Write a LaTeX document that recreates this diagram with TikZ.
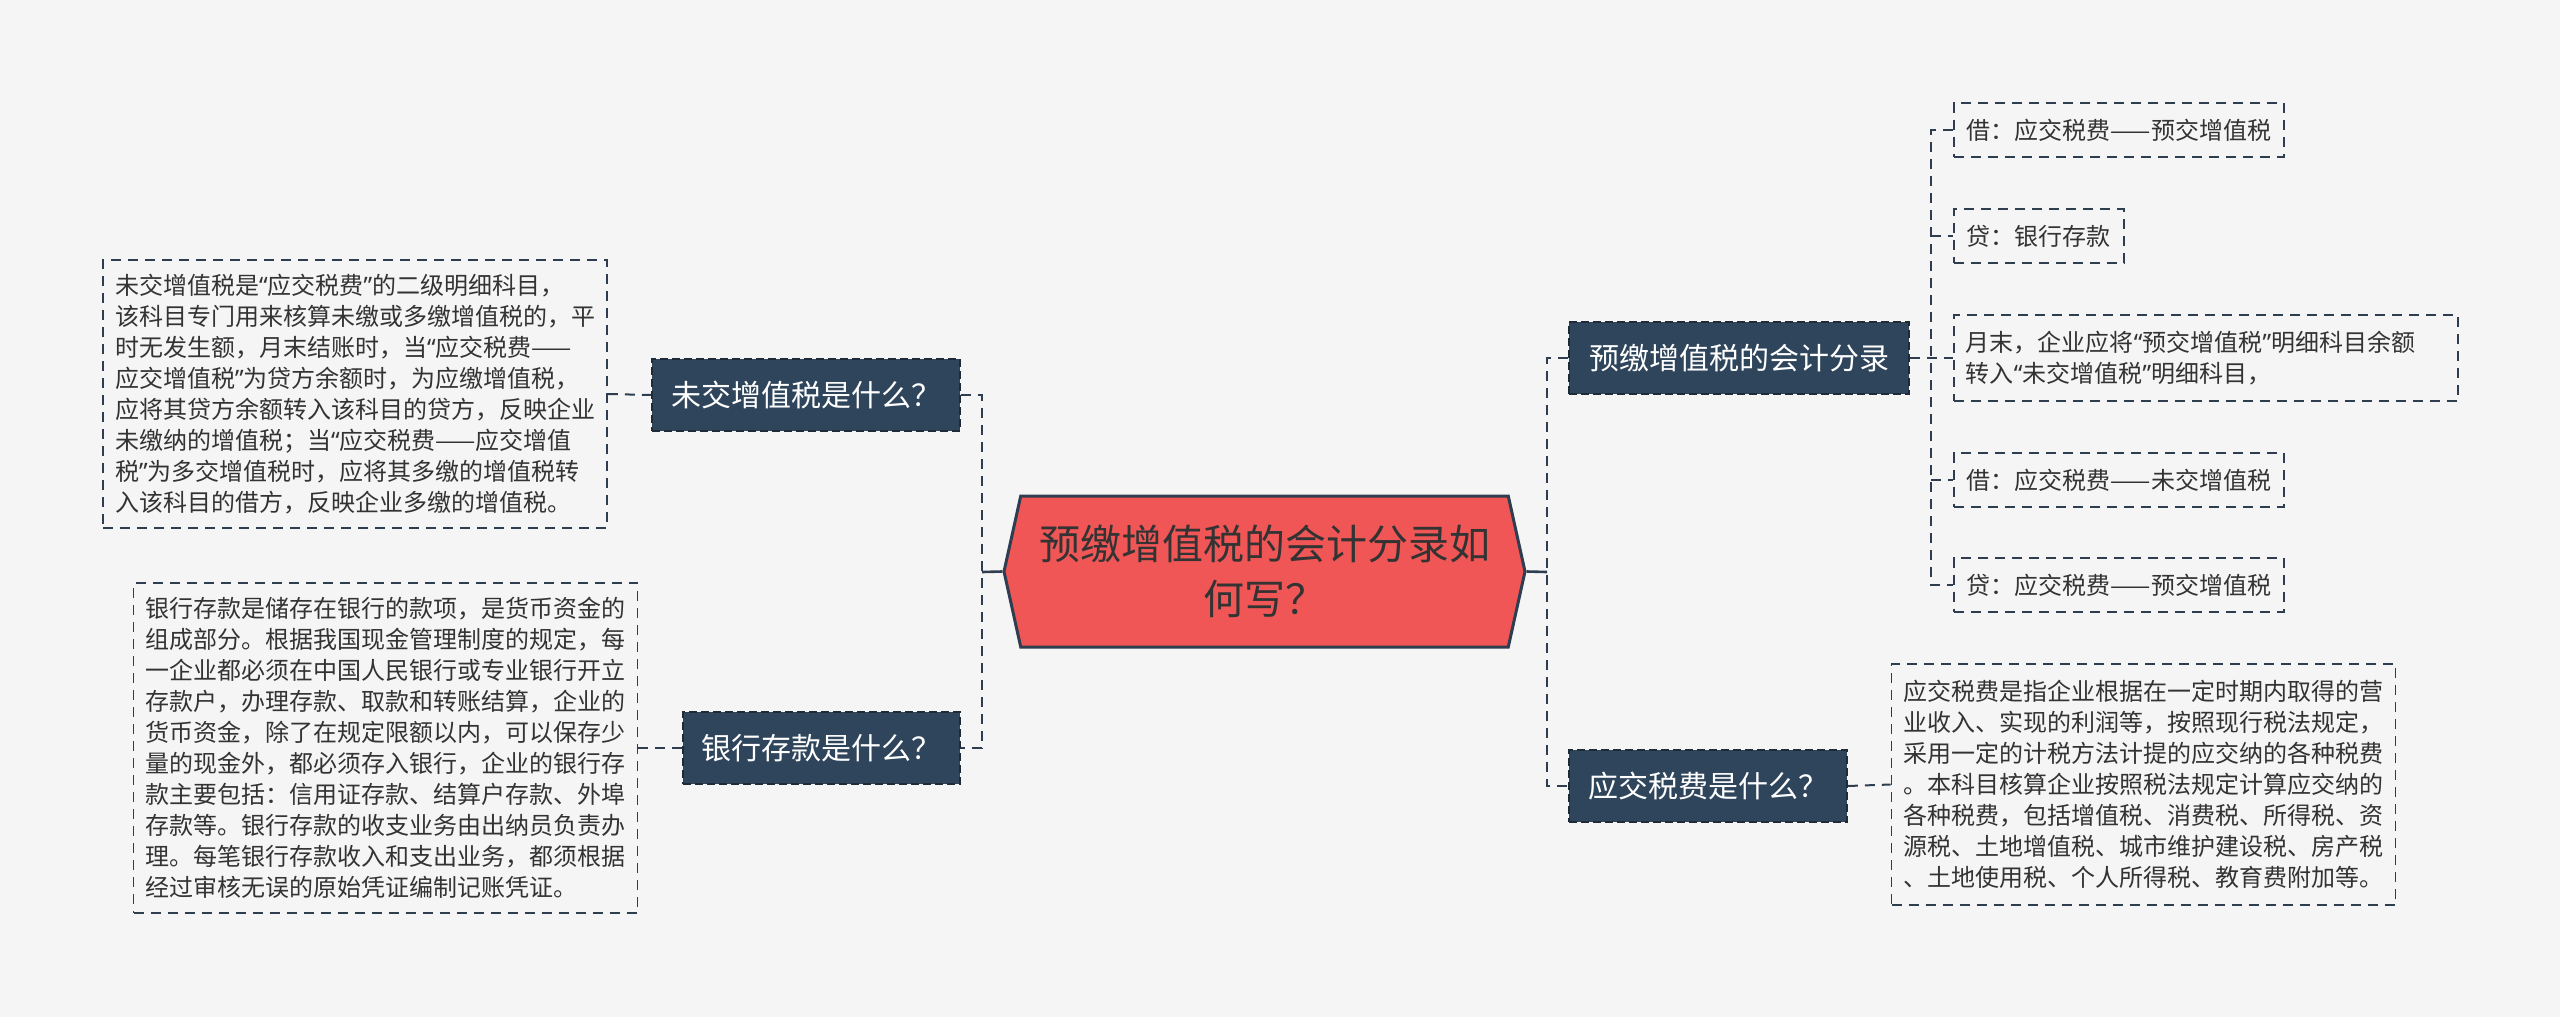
\documentclass[tikz,border=0pt]{standalone}
\usepackage{fontspec}
\setmainfont{Noto Sans CJK SC}
\newfontfamily\quotefont{Noto Sans}
\newcommand\oq{{\quotefont “}}
\newcommand\cq{{\quotefont ”}}
\usetikzlibrary{shapes.symbols}
\definecolor{bgcol}{HTML}{F5F5F5}
\definecolor{linecol}{HTML}{2E3E50}
\definecolor{topiccol}{HTML}{2F455C}
\definecolor{rootcol}{HTML}{F05656}
\definecolor{textcol}{HTML}{333333}

\begin{document}
\begin{tikzpicture}[x=0.5pt,y=-0.5pt,
	link/.style={linecol, line width=1pt, dash pattern=on 5pt off 3.5pt},
	stem/.style={linecol, line width=1.3pt},
	topic/.style={fill=topiccol, draw=linecol!70!black, line width=0.8pt, dash pattern=on 4pt off 2pt,
		text=white, font=\fontsize{15pt}{18pt}\selectfont, minimum height=36pt, inner sep=0pt},
	leaf/.style={draw=linecol, line width=0.9pt, dash pattern=on 5pt off 3.5pt, text=textcol,
		align=left, font=\fontsize{12pt}{15.5pt}\selectfont, inner xsep=6.5pt, minimum height=27pt},
	para/.style={leaf, text width=240pt, inner xsep=6pt}]
	\fill[bgcol] (0,0) rectangle (2560,1017);
	% centre topic
	\node[signal, signal to=east and west, signal pointer angle=155, fill=rootcol, draw=linecol,
		line width=1.5pt, minimum width=260.5pt, minimum height=75.5pt, text=textcol, align=center,
		font=\fontsize{20.5pt}{27.5pt}\selectfont] (root) at (1264.5,571.5) {预缴增值税的会计分录如\\何写？};
	% left side
	\node[topic, minimum width=154pt] (weijiao) at (806,395) {未交增值税是什么？};
	\node[topic, minimum width=138.5pt] (cunkuan) at (821.5,748) {银行存款是什么？};
	\node[para, minimum height=134pt] (weijiaotxt) at (355,394) {未交增值税是\oq 应交税费\cq 的二级明细科目，\\
		该科目专门用来核算未缴或多缴增值税的，平\\
		时无发生额，月末结账时，当\oq 应交税费——\\
		应交增值税\cq 为贷方余额时，为应缴增值税，\\
		应将其贷方余额转入该科目的贷方，反映企业\\
		未缴纳的增值税；当\oq 应交税费——应交增值\\
		税\cq 为多交增值税时，应将其多缴的增值税转\\
		入该科目的借方，反映企业多缴的增值税。};
	\node[para, minimum height=165pt] (cunkuantxt) at (385.5,748) {银行存款是储存在银行的款项，是货币资金的\\
		组成部分。根据我国现金管理制度的规定，每\\
		一企业都必须在中国人民银行或专业银行开立\\
		存款户，办理存款、取款和转账结算，企业的\\
		货币资金，除了在规定限额以内，可以保存少\\
		量的现金外，都必须存入银行，企业的银行存\\
		款主要包括：信用证存款、结算户存款、外埠\\
		存款等。银行存款的收支业务由出纳员负责办\\
		理。每笔银行存款收入和支出业务，都须根据\\
		经过审核无误的原始凭证编制记账凭证。};
	% right side
	\node[topic, minimum width=170pt] (fenlu) at (1739,358) {预缴增值税的会计分录};
	\node[topic, minimum width=139pt] (shuifei) at (1708,786) {应交税费是什么？};
	\node[leaf, anchor=west] (jie1) at (1953,130) {借：应交税费——预交增值税};
	\node[leaf, anchor=west] (dai1) at (1953,236) {贷：银行存款};
	\node[para, anchor=west, minimum height=43pt] (yuemo) at (1953,358) {月末，企业应将\oq 预交增值税\cq 明细科目余额\\
		转入\oq 未交增值税\cq 明细科目，};
	\node[leaf, anchor=west] (jie2) at (1953,480) {借：应交税费——未交增值税};
	\node[leaf, anchor=west] (dai2) at (1953,585) {贷：应交税费——预交增值税};
	\node[para, minimum height=120.5pt] (shuifeitxt) at (2143.5,784.5) {应交税费是指企业根据在一定时期内取得的营\\
		业收入、实现的利润等，按照现行税法规定，\\
		采用一定的计税方法计提的应交纳的各种税费\\
		。本科目核算企业按照税法规定计算应交纳的\\
		各种税费，包括增值税、消费税、所得税、资\\
		源税、土地增值税、城市维护建设税、房产税\\
		、土地使用税、个人所得税、教育费附加等。};
	% connectors
	\coordinate (jl) at (982,572);
	\coordinate (jr) at (1547,572);
	\coordinate (jc) at (1931,358);
	\draw[stem] (root.west) -- (jl);
	\draw[stem] (root.east) -- (jr);
	\draw[link] (weijiao.east) -| (jl) |- (cunkuan.east);
	\draw[link] (fenlu.west) -| (jr) |- (shuifei.west);
	\draw[link] (weijiaotxt.east) -- (weijiao.west);
	\draw[link] (cunkuantxt.east) -- (cunkuan.west);
	\draw[link] (shuifei.east) -- (shuifeitxt.west);
	\draw[link] (fenlu.east) -- (yuemo.west);
	\draw[link] (jie1.west) -| (jc) |- (dai2.west);
	\foreach \r in {dai1,jie2}
		\draw[link] (jc |- \r.west) -- (\r.west);
\end{tikzpicture}
\end{document}
